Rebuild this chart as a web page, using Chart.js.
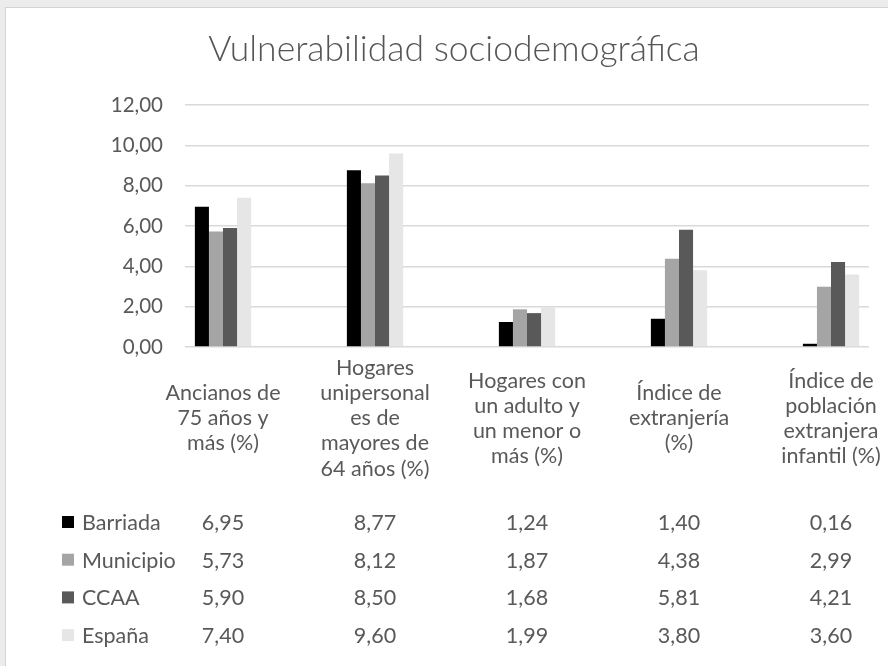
<!DOCTYPE html>
<html>
<head>
<meta charset="utf-8">
<script src="https://cdn.jsdelivr.net/npm/chart.js@4.4.1/dist/chart.umd.min.js"></script>
<style>
  html, body { margin: 0; padding: 0; width: 888px; height: 666px; overflow: hidden; background: #ececec; }
  #frame { position: absolute; left: 5px; top: 7px; width: 910px; height: 700px; background: #fff; border: 1px solid #d4d4d4; }
  #wrap { position: absolute; left: 0; top: 0; width: 888px; height: 666px; }
</style>
</head>
<body>
<div id="frame"></div>
<div id="wrap"><canvas id="chart" width="888" height="666"></canvas></div>
<script>
// Indicator labels (wrapped the way they appear under the axis)
const categories = [
  ['Ancianos de', '75 años y', 'más (%)'],
  ['Hogares', 'unipersonal', 'es de', 'mayores de', '64 años (%)'],
  ['Hogares con', 'un adulto y', 'un menor o', 'más (%)'],
  ['Índice de', 'extranjería', '(%)'],
  ['Índice de', 'población', 'extranjera', 'infantil (%)']
];

const seriesNames = ['Barriada', 'Municipio', 'CCAA', 'España'];
const barriada  = [6.95, 8.77, 1.24, 1.40, 0.16];
const municipio = [5.73, 8.12, 1.87, 4.38, 2.99];
const ccaa      = [5.90, 8.50, 1.68, 5.81, 4.21];
const espana    = [7.40, 9.60, 1.99, 3.80, 3.60];
const seriesValues = [barriada, municipio, ccaa, espana];
const seriesColors = ['#000000', '#a5a5a5', '#595959', '#e7e6e6'];

const yMin = 0, yMax = 12, yStep = 2;

const FONT = 'Lato, "Open Sans", sans-serif';
const TEXT = '#595959';

const fmt = v => v.toFixed(2).replace('.', ',');

// Title plus the data table under the category labels
const tablePlugin = {
  id: 'dataTable',
  afterDraw(chart) {
    const ctx = chart.ctx;
    const xs = chart.scales.x;
    ctx.save();
    ctx.fillStyle = '#555555';
    ctx.font = '300 35.5px ' + FONT;
    ctx.textAlign = 'center';
    ctx.textBaseline = 'middle';
    ctx.fillText('Vulnerabilidad sociodemográfica', 454, 50);

    ctx.font = '21.5px ' + FONT;
    const firstRow = 522, rowGap = 37.7;
    seriesNames.forEach((name, r) => {
      const y = firstRow + r * rowGap;
      ctx.fillStyle = seriesColors[r];
      ctx.fillRect(62, y - 6, 12, 12);
      ctx.fillStyle = TEXT;
      ctx.textAlign = 'left';
      ctx.fillText(name, 82, y + 1);
      ctx.textAlign = 'center';
      seriesValues[r].forEach((v, i) => {
        ctx.fillText(fmt(v), xs.getPixelForValue(i), y + 1);
      });
    });
    ctx.restore();
  }
};

new Chart(document.getElementById('chart'), {
  type: 'bar',
  data: {
    datasets: seriesNames.map((name, s) => ({
      label: name,
      data: seriesValues[s].map((v, i) => ({ x: i, y: v })),
      backgroundColor: seriesColors[s],
      borderWidth: 0,
      categoryPercentage: 0.37,
      barPercentage: 1.0
    }))
  },
  options: {
    responsive: false,
    devicePixelRatio: 1,
    animation: false,
    layout: { padding: { top: 105, left: 0, right: 19, bottom: 0 } },
    plugins: {
      legend: { display: false },
      title: { display: false },
      tooltip: { enabled: false }
    },
    scales: {
      x: {
        type: 'linear',
        min: -0.25,
        max: 4.25,
        offset: false,
        grid: { display: false, offset: false },
        border: { display: false },
        afterBuildTicks: scale => { scale.ticks = categories.map((c, i) => ({ value: i })); },
        afterFit: scale => {
          scale.height = 666 - 347;
          scale.paddingLeft = 0;
          scale.paddingRight = 0;
        },
        ticks: {
          autoSkip: false,
          maxRotation: 0,
          minRotation: 0,
          crossAlign: 'center',
          padding: 13,
          color: TEXT,
          font: { family: FONT, size: 21.5, lineHeight: 1.17 },
          callback: v => categories[v]
        }
      },
      y: {
        min: yMin,
        max: yMax,
        grid: { color: '#d9d9d9', lineWidth: 1.5, drawTicks: false },
        border: { display: false },
        afterFit: scale => { scale.width = 185; },
        ticks: {
          stepSize: yStep,
          padding: 22,
          color: TEXT,
          font: { family: FONT, size: 20.5 },
          callback: v => fmt(v)
        }
      }
    }
  },
  plugins: [tablePlugin]
});
</script>
</body>
</html>
